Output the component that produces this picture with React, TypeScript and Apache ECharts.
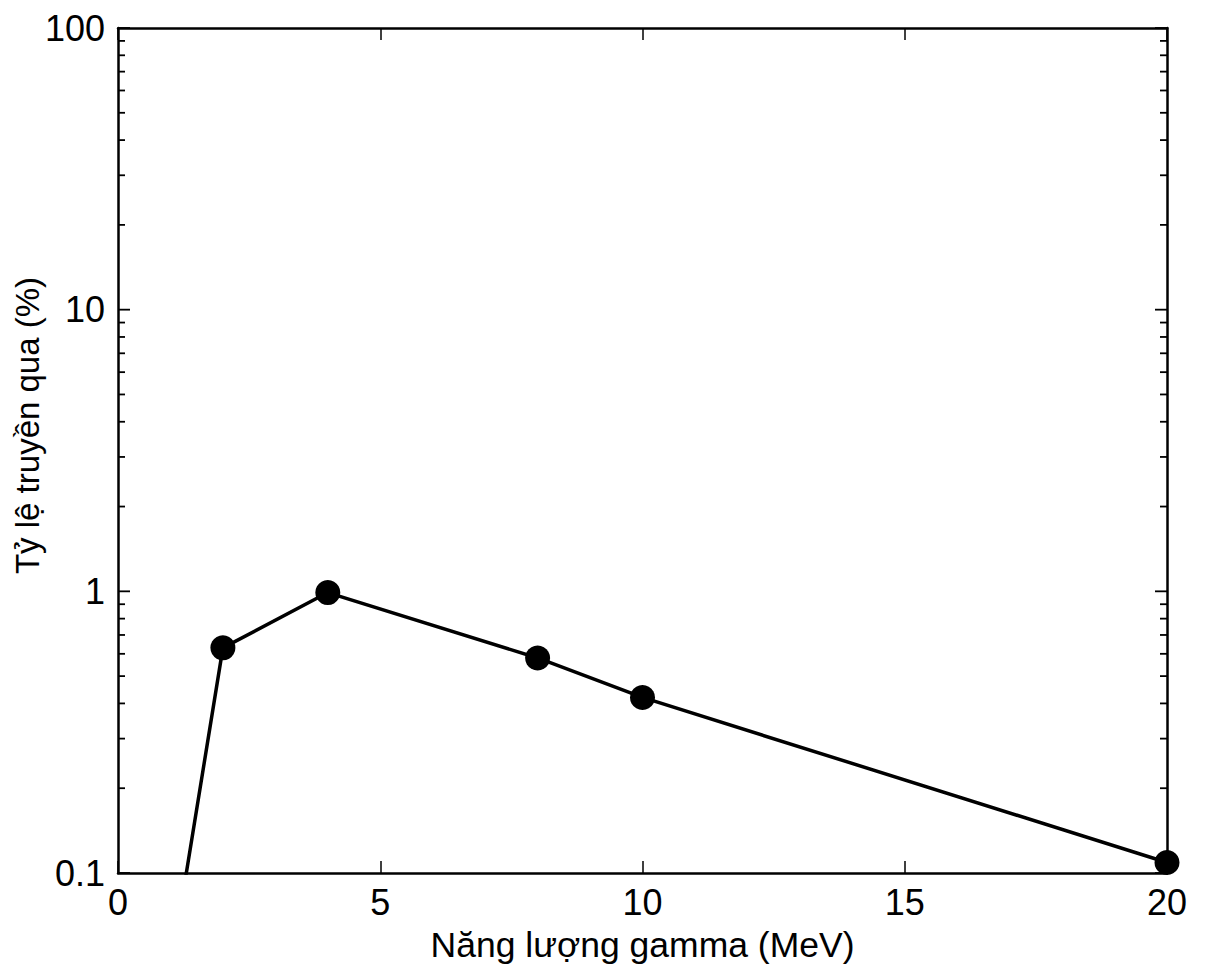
import React, { useEffect, useRef } from "react";
import * as echarts from "echarts";

const energies = [1, 2, 4, 8, 10, 20];
const transmission = [0.045, 0.63, 0.99, 0.58, 0.42, 0.109];
const xTicks = [0, 5, 10, 15, 20];
const yMajor = [0.1, 1, 10, 100];
const yMinor = [0.2, 0.3, 0.4, 0.5, 0.6, 0.7, 0.8, 0.9, 2, 3, 4, 5, 6, 7, 8, 9, 20, 30, 40, 50, 60, 70, 80, 90];
const xName = "Năng lượng gamma (MeV)";
const yName = "Tỷ lệ truyền qua (%)";

const FONT = "Liberation Sans, Arial, sans-serif";

export default function App() {
  const ref = useRef<HTMLDivElement>(null);
  useEffect(() => {
    if (!ref.current) return;
    const chart = echarts.init(ref.current, undefined, { renderer: "svg" });
    const tickData = [
      ...yMinor.map((v) => [v, 7]),
      ...yMajor.map((v) => [v, 12]),
    ];
    const axisLine = { show: true, onZero: false, lineStyle: { color: "#000", width: 2.5 } };
    const option: any = {
      animation: false,
      backgroundColor: "#ffffff",
      grid: { left: 118, right: 39, top: 28, bottom: 95, containLabel: false, outerBoundsMode: "none" },
      xAxis: [
        {
          type: "value",
          min: 0,
          max: 20,
          interval: 5,
          position: "bottom",
          name: xName,
          nameLocation: "middle",
          nameGap: 54,
          nameMoveOverlap: false,
          nameTextStyle: { fontFamily: FONT, fontSize: 35.5, color: "#000" },
          axisLine,
          axisTick: { show: true, inside: true, length: 12, lineStyle: { color: "#000", width: 1.5 } },
          axisLabel: {
            fontFamily: FONT,
            fontSize: 36,
            color: "#000",
            margin: 11,
            formatter: (v: number) => (xTicks.includes(v) ? String(v) : ""),
          },
          splitLine: { show: false },
        },
        {
          type: "value",
          min: 0,
          max: 20,
          interval: 5,
          position: "top",
          axisLine,
          axisTick: { show: true, inside: true, length: 12, lineStyle: { color: "#000", width: 1.5 } },
          axisLabel: { show: false },
          splitLine: { show: false },
        },
      ],
      yAxis: [
        {
          type: "log",
          logBase: 10,
          min: 0.1,
          max: 100,
          position: "left",
          name: yName,
          nameLocation: "middle",
          nameGap: 74,
          nameMoveOverlap: false,
          nameTextStyle: { fontFamily: FONT, fontSize: 33, color: "#000", padding: [0, 0, 0, 50] },
          axisLine,
          axisTick: { show: false },
          axisLabel: {
            fontFamily: FONT,
            fontSize: 36,
            color: "#000",
            margin: 13,
            formatter: (v: number) => {
              const m = yMajor.find((t) => Math.abs(t - v) / t < 1e-6);
              return m !== undefined ? String(m) : "";
            },
          },
          splitLine: { show: false },
        },
        {
          type: "log",
          logBase: 10,
          min: 0.1,
          max: 100,
          position: "right",
          axisLine,
          axisTick: { show: false },
          axisLabel: { show: false },
          splitLine: { show: false },
        },
      ],
      series: [
        {
          type: "custom",
          xAxisIndex: 0,
          yAxisIndex: 0,
          silent: true,
          clip: false,
          data: tickData,
          renderItem: (params: any, api: any) => {
            const v = api.value(0);
            const len = api.value(1);
            const l = api.coord([0, v]);
            const r = api.coord([20, v]);
            const style = { stroke: "#000", lineWidth: 1.8 };
            return {
              type: "group",
              children: [
                { type: "line", shape: { x1: l[0], y1: l[1], x2: l[0] + len, y2: l[1] }, style },
                { type: "line", shape: { x1: r[0], y1: r[1], x2: r[0] - len, y2: r[1] }, style },
              ],
            };
          },
        },
        {
          type: "line",
          xAxisIndex: 0,
          yAxisIndex: 0,
          data: energies.map((e, i) => [e, transmission[i]]),
          clip: true,
          symbol: "circle",
          symbolSize: 25,
          showSymbol: true,
          lineStyle: { color: "#000", width: 3.5 },
          itemStyle: { color: "#000" },
        },
      ],
    };
    chart.setOption(option);
    return () => chart.dispose();
  }, []);
  return <div ref={ref} style={{ width: 1206, height: 968, position: "absolute", left: 0, top: 0 }} />;
}
